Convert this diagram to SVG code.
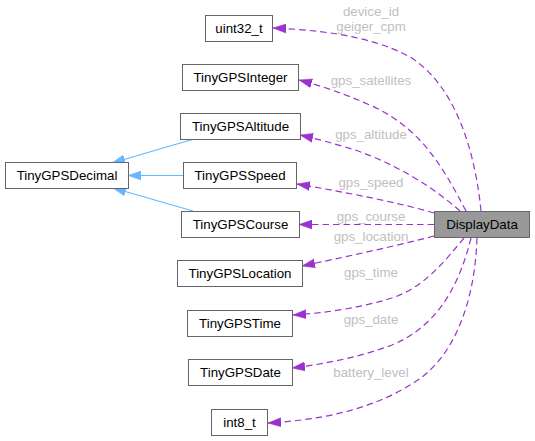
<svg xmlns="http://www.w3.org/2000/svg" width="535" height="441" viewBox="0 0 535 441">
<style>
.box{fill:#ffffff;stroke:#666666;stroke-width:1}
.sel{fill:#999999;stroke:#666666;stroke-width:1}
.t{font-family:"Liberation Sans",Arial,sans-serif;font-size:13.3px;fill:#000000;text-anchor:middle}
.lbl{font-family:"Liberation Sans",Arial,sans-serif;font-size:13.3px;fill:#c0c0c0;text-anchor:middle}
.use{fill:none;stroke:#9a32cd;stroke-width:1.2;stroke-dasharray:6.5,4;marker-end:url(#ap)}
.inh{fill:none;stroke:#63b8ff;stroke-width:1.2;marker-end:url(#ab)}
</style>
<defs>
<marker id="ap" markerUnits="userSpaceOnUse" markerWidth="14" markerHeight="10" refX="13" refY="5" orient="auto">
<path d="M0,0.5 L13,5 L0,9.5 Z" fill="#9a32cd" stroke="#9a32cd" stroke-width="0.5"/>
</marker>
<marker id="ab" markerUnits="userSpaceOnUse" markerWidth="14" markerHeight="10" refX="13" refY="5" orient="auto">
<path d="M0,0.5 L13,5 L0,9.5 Z" fill="#63b8ff" stroke="#63b8ff" stroke-width="0.5"/>
</marker>
</defs>
<g id="connectors">
<path class="inh" d="M194,139 L112,163"/>
<path class="inh" d="M183,175.5 L128,175.5"/>
<path class="inh" d="M193,211 L113,188"/>
<path class="use" d="M481,211 C475,150 455,85 410,57 C372,36 320,30 273,28"/>
<path class="use" d="M466,211 C442,165 420,128 372,106 C345,94 322,86 299,80"/>
<path class="use" d="M460,211 C432,186 392,162 352,149 C335,144 318,139 300,135"/>
<path class="use" d="M434,213 C400,203 350,193 297,184"/>
<path class="use" d="M434,224.5 L299,224.5"/>
<path class="use" d="M434,236 C400,245 345,257 302,266"/>
<path class="use" d="M464,238 C442,265 422,288 392,298 C360,308 325,313 293,315"/>
<path class="use" d="M471,238 C460,282 440,325 392,345 C360,357 325,364 292,368"/>
<path class="use" d="M477,238 C475,300 455,360 410,385 C370,410 320,420 268,423"/>
<text class="lbl" x="371" y="16">device_id</text>
<text class="lbl" x="371" y="31">geiger_cpm</text>
<text class="lbl" x="371" y="85">gps_satellites</text>
<text class="lbl" x="371" y="139">gps_altitude</text>
<text class="lbl" x="371" y="187">gps_speed</text>
<text class="lbl" x="371" y="221">gps_course</text>
<text class="lbl" x="371" y="241">gps_location</text>
<text class="lbl" x="371" y="277">gps_time</text>
<text class="lbl" x="371" y="324">gps_date</text>
<text class="lbl" x="371" y="377">battery_level</text>
</g>
<g id="node-DisplayData"><rect class="sel" x="434.5" y="211.5" width="95" height="26"/><text class="t" x="482" y="229">DisplayData</text></g>
<g id="node-uint32_t"><rect class="box" x="205.5" y="15.5" width="67" height="26"/><text class="t" x="239" y="33">uint32_t</text></g>
<g id="node-TinyGPSInteger"><rect class="box" x="182.5" y="64.5" width="116" height="26"/><text class="t" x="240.5" y="82">TinyGPSInteger</text></g>
<g id="node-TinyGPSAltitude"><rect class="box" x="180.5" y="113.5" width="120" height="26"/><text class="t" x="240.5" y="131">TinyGPSAltitude</text></g>
<g id="node-TinyGPSDecimal"><rect class="box" x="5.5" y="162.5" width="123" height="26"/><text class="t" x="67" y="180">TinyGPSDecimal</text></g>
<g id="node-TinyGPSSpeed"><rect class="box" x="183.5" y="162.5" width="113" height="26"/><text class="t" x="240" y="180">TinyGPSSpeed</text></g>
<g id="node-TinyGPSCourse"><rect class="box" x="181.5" y="211.5" width="118" height="26"/><text class="t" x="240.5" y="229">TinyGPSCourse</text></g>
<g id="node-TinyGPSLocation"><rect class="box" x="177.5" y="260.5" width="125" height="26"/><text class="t" x="240" y="278">TinyGPSLocation</text></g>
<g id="node-TinyGPSTime"><rect class="box" x="187.5" y="310.5" width="105" height="26"/><text class="t" x="240" y="328">TinyGPSTime</text></g>
<g id="node-TinyGPSDate"><rect class="box" x="188.5" y="359.5" width="104" height="26"/><text class="t" x="240.5" y="377">TinyGPSDate</text></g>
<g id="node-int8_t"><rect class="box" x="211.5" y="409.5" width="56" height="26"/><text class="t" x="239.5" y="427">int8_t</text></g>
</svg>
